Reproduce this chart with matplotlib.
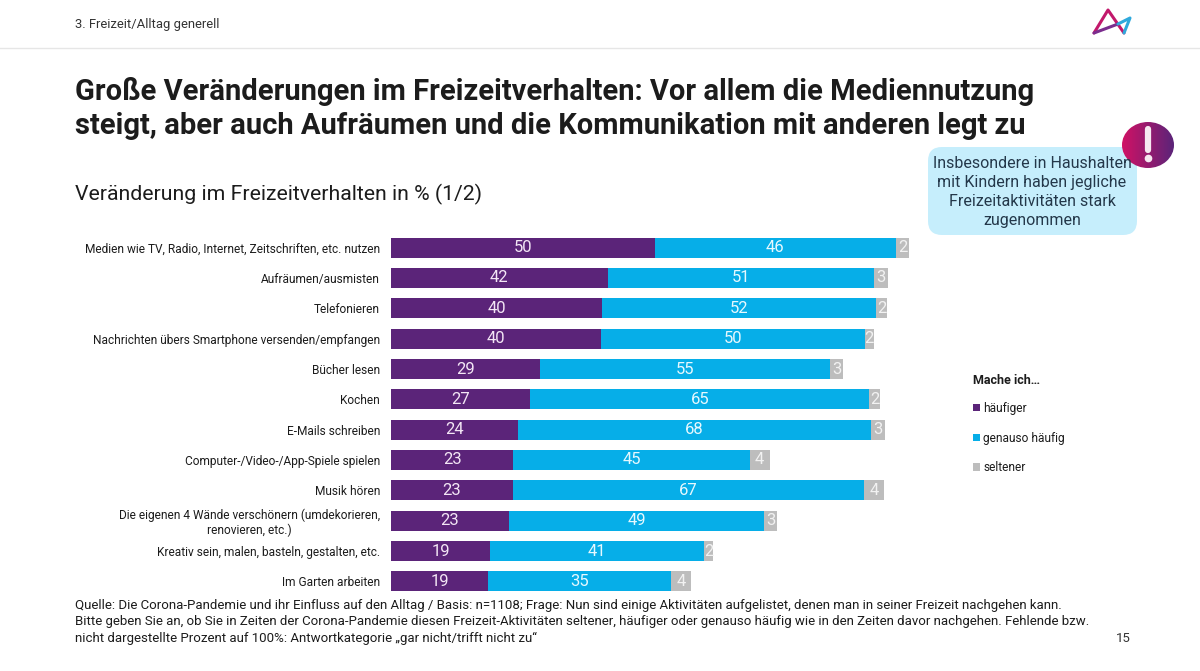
import matplotlib
matplotlib.use('Agg')
import matplotlib.pyplot as plt
import numpy as np
from matplotlib.colors import LinearSegmentedColormap
from matplotlib.patches import Ellipse, FancyBboxPatch

plt.rcParams['font.family'] = ['Roboto', 'DejaVu Sans']

categories = [
    'Medien wie TV, Radio, Internet, Zeitschriften, etc. nutzen',
    'Aufräumen/ausmisten',
    'Telefonieren',
    'Nachrichten übers Smartphone versenden/empfangen',
    'Bücher lesen',
    'Kochen',
    'E-Mails schreiben',
    'Computer-/Video-/App-Spiele spielen',
    'Musik hören',
    'Die eigenen 4 Wände verschönern (umdekorieren,\nrenovieren, etc.)',
    'Kreativ sein, malen, basteln, gestalten, etc.',
    'Im Garten arbeiten',
]
# segment lengths as drawn in the picture, the printed labels are rounded
haeufiger = [50.2, 41.3, 40.2, 40.0, 28.4, 26.5, 24.2, 23.3, 23.2, 22.5, 18.9, 18.5]
genauso = [46.0, 50.7, 52.2, 50.2, 55.2, 64.6, 67.2, 45.0, 66.9, 48.6, 40.8, 34.9]
seltener = [2.5, 2.6, 2.1, 1.8, 2.5, 2.1, 2.7, 3.8, 3.8, 2.5, 1.7, 3.8]
labels_haeufiger = [50, 42, 40, 40, 29, 27, 24, 23, 23, 23, 19, 19]
labels_genauso = [46, 51, 52, 50, 55, 65, 68, 45, 67, 49, 41, 35]
labels_seltener = [2, 3, 2, 2, 3, 2, 3, 4, 4, 3, 2, 4]

PURPLE = '#5B2479'
BLUE = '#06AEE8'
GREY = '#BDBDBD'
DARK = '#1C1C1C'

W, H = 1200, 671
fig = plt.figure(figsize=(W / 100, H / 100), dpi=100, facecolor='white')

# page layer in pixel coordinates
bg = fig.add_axes([0, 0, 1, 1])
bg.set_xlim(0, W)
bg.set_ylim(H, 0)
bg.axis('off')

bg.plot([0, W], [48, 48], color='#E6E6E6', lw=1)
bg.text(75, 24.5, '3. Freizeit/Alltag generell', fontsize=9.4, color='#333333', va='center')
bg.text(75, 91, 'Große Veränderungen im Freizeitverhalten: Vor allem die Mediennutzung',
        fontsize=20.98, fontweight='bold', color=DARK, va='center')
bg.text(75, 126, 'steigt, aber auch Aufräumen und die Kommunikation mit anderen legt zu',
        fontsize=20.98, fontweight='bold', color=DARK, va='center')
bg.text(75, 194.5, 'Veränderung im Freizeitverhalten in % (1/2)', fontsize=15.3, color=DARK, va='center')

# logo
bg.plot([1094, 1108, 1124], [33, 10, 33], color='#C2186B', lw=2.2, solid_capstyle='round')
bg.plot([1094, 1118], [33, 24], color='#7B2D8E', lw=2.2, solid_capstyle='round')
bg.plot([1118, 1130, 1124], [24, 18, 33], color='#2FA9DC', lw=2.2, solid_capstyle='round')

# callout
bg.add_patch(FancyBboxPatch((928, 147), 209, 88, boxstyle='round,pad=0,rounding_size=14',
                            fc='#C6EEFC', ec='none', zorder=2))
grad = LinearSegmentedColormap.from_list('mark', ['#D01265', '#5B2479'])
im = bg.imshow(np.linspace(0, 1, 100).reshape(1, -1), cmap=grad, extent=(1122, 1174, 168, 122),
               aspect='auto', zorder=3)
circle = Ellipse((1148, 145), 52, 46, transform=bg.transData, fc='none', ec='none', zorder=3)
bg.add_patch(circle)
im.set_clip_path(circle)
bg.set_xlim(0, W)
bg.set_ylim(H, 0)
bg.plot([1148, 1148], [129, 150], color='#F6E8F0', lw=4.5, zorder=4, solid_capstyle='round')
bg.plot([1148], [158], 'o', color='#F6E8F0', ms=4.5, zorder=4)
callout_lines = ['Insbesondere in Haushalten', 'mit Kindern haben jegliche',
                 'Freizeitaktivitäten stark', 'zugenommen']
for line, y in zip(callout_lines, [163, 183, 202, 221]):
    bg.text(1032, y, line, fontsize=11.5, color='#24384A', ha='center', va='center', zorder=5)

# footer
footer = [
    'Quelle: Die Corona-Pandemie und ihr Einfluss auf den Alltag / Basis: n=1108; Frage: Nun sind einige Aktivitäten aufgelistet, denen man in seiner Freizeit nachgehen kann.',
    'Bitte geben Sie an, ob Sie in Zeiten der Corona-Pandemie diesen Freizeit-Aktivitäten seltener, häufiger oder genauso häufig wie in den Zeiten davor nachgehen. Fehlende bzw.',
    'nicht dargestellte Prozent auf 100%: Antwortkategorie „gar nicht/trifft nicht zu“',
]
for line, y in zip(footer, [605, 621, 638]):
    bg.text(75, y, line, fontsize=9.58, color=DARK, va='center')
bg.text(1123, 638, '15', fontsize=9.5, color='#333333', ha='center', va='center')

# chart: 5.25 px per percent, 30.33 px per row
left, right = 391, 915
top, bottom = 232.5, 596.5
ax = fig.add_axes([left / W, 1 - bottom / H, (right - left) / W, (bottom - top) / H])
ax.patch.set_alpha(0)
y = np.arange(len(categories))
h = np.array(haeufiger)
g = np.array(genauso)
s = np.array(seltener)
bar_h = 0.65
b1 = ax.barh(y, h, height=bar_h, color=PURPLE, label='häufiger')
b2 = ax.barh(y, g, left=h, height=bar_h, color=BLUE, label='genauso häufig')
b3 = ax.barh(y, s, left=h + g, height=bar_h, color=GREY, label='seltener')
ax.bar_label(b1, labels=labels_haeufiger, label_type='center', color='#F3E6F5', fontsize=12)
ax.bar_label(b2, labels=labels_genauso, label_type='center', color='#E6F8FE', fontsize=12)
ax.bar_label(b3, labels=labels_seltener, label_type='center', color='#F2F2F2', fontsize=12)

ax.set_xlim(0, (right - left) / 5.25)
ax.set_ylim(len(categories) - 0.5, -0.5)
ax.set_xticks([])
ax.set_yticks(y)
ax.set_yticklabels(categories, fontsize=8.6, color=DARK, linespacing=1.1, ha='right', multialignment='center')
ax.tick_params(axis='y', length=0, pad=8)
for side in ax.spines.values():
    side.set_visible(False)

leg = fig.legend(handles=[b1, b2, b3], loc='upper left', bbox_to_anchor=(969 / W, 1 - 370 / H),
                 frameon=False, title='Mache ich…', alignment='left', fontsize=8.6,
                 handlelength=0.6, handleheight=0.6, handletextpad=0.3, labelspacing=1.4,
                 borderpad=0.3, borderaxespad=0)
leg.get_title().set_fontweight('bold')
leg.get_title().set_fontsize(9)
leg.get_title().set_color(DARK)
for t in leg.get_texts():
    t.set_color(DARK)
leg._legend_box.sep = 11

fig.savefig('out.png', dpi=100, facecolor='white')
